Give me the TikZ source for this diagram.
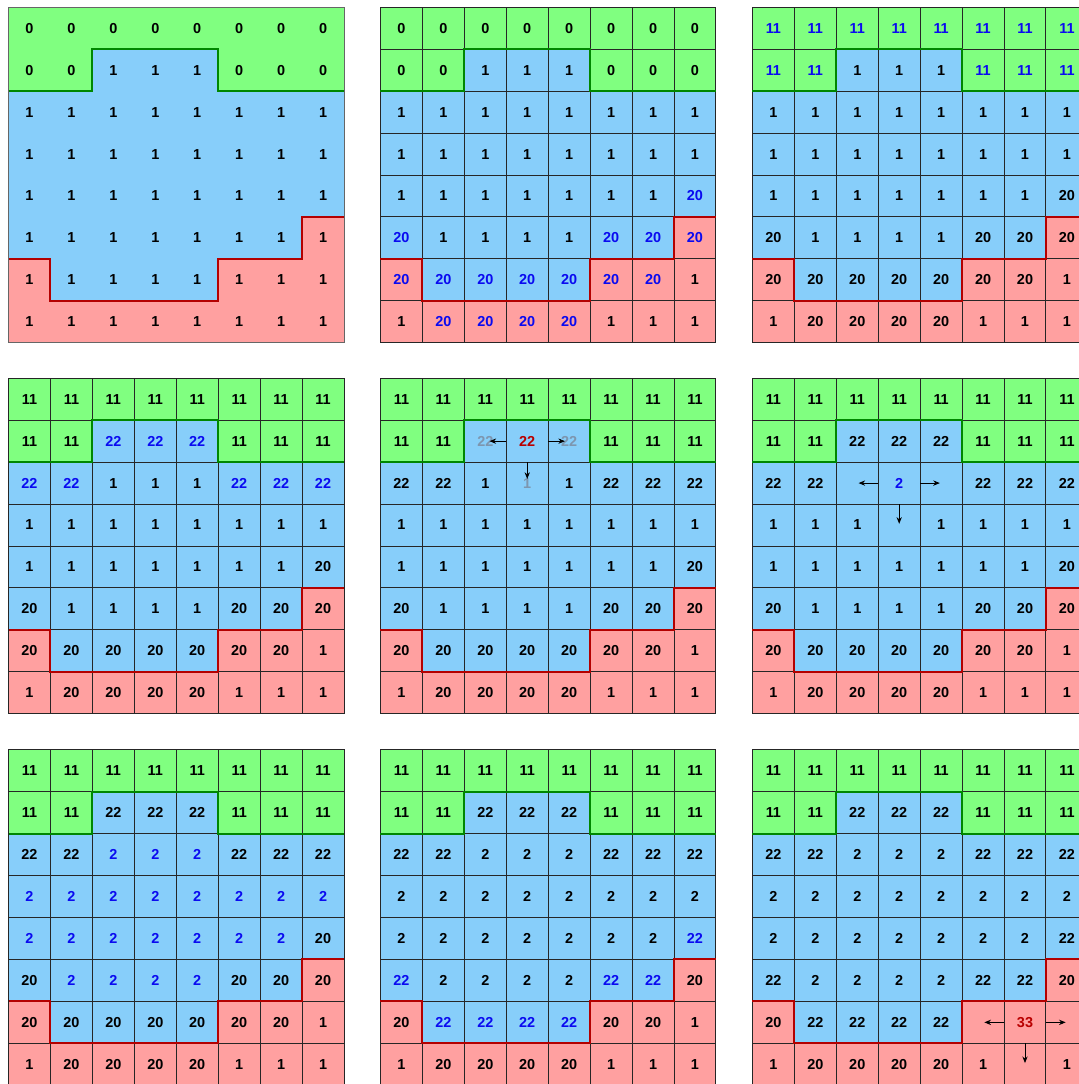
\documentclass[tikz,border=0pt]{standalone}
\usepackage{fontspec}
\setmainfont{Liberation Sans}
\usetikzlibrary{arrows.meta}

\definecolor{zgreen}{RGB}{128,255,128}
\definecolor{zblue}{RGB}{135,206,250}
\definecolor{zpink}{RGB}{255,160,160}
\definecolor{edgegreen}{RGB}{0,135,0}
\definecolor{edgered}{RGB}{180,0,0}
\definecolor{numblue}{RGB}{10,10,240}
\definecolor{numred}{RGB}{185,0,0}
\definecolor{ghost}{RGB}{125,150,175}

\newcommand\B[1]{\textcolor{numblue}{#1}}
\newcommand\R[1]{\textcolor{numred}{#1}}
\newcommand\G[1]{\textcolor{ghost}{#1}}

% #1 name, #2 cell style, #3 x, #4 y, #5 rows of values
\newcommand\labelpanel[5]{%
  \begin{scope}[shift={(#3,#4)}]
    \fill[zblue] (0,0) rectangle (8,-8);
    \fill[zgreen] (0,0) -- (8,0) -- (8,-2) -- (5,-2) -- (5,-1) -- (2,-1)
      -- (2,-2) -- (0,-2) -- cycle;
    \fill[zpink] (0,-8) -- (0,-6) -- (1,-6) -- (1,-7) -- (5,-7) -- (5,-6)
      -- (7,-6) -- (7,-5) -- (8,-5) -- (8,-8) -- cycle;
    \foreach \rowvals [count=\r] in {#5} {
      \foreach \v [count=\c] in \rowvals
        \node[#2] (#1-\r-\c) at (\c-0.5,0.5-\r) {\v};
    }
    \draw[seamgreen] (0,-2) -- (2,-2) -- (2,-1) -- (5,-1) -- (5,-2) -- (8,-2);
    \draw[seamred] (0,-6) -- (1,-6) -- (1,-7) -- (5,-7) -- (5,-6) -- (7,-6)
      -- (7,-5) -- (8,-5);
  \end{scope}}

\begin{document}
\begin{tikzpicture}[
  font=\fontsize{9.8}{11}\selectfont\bfseries,
  cell/.style={draw=black!85, line width=0.65pt, minimum size=1cm,
               inner sep=0pt},
  bare/.style={minimum size=1cm, inner sep=0pt},
  seamgreen/.style={draw=edgegreen, line width=1.4pt, line join=miter},
  seamred/.style={draw=edgered, line width=1.4pt, line join=miter},
  frame/.style={draw=black!60, line width=0.6pt},
  ar/.style={-{Stealth[length=4.5pt, width=3.6pt]}, line width=0.6pt,
             shorten <=5mm},
]
\useasboundingbox (0,0) rectangle (25.73,-25.85);
\clip (0,0) rectangle (25.73,-25.85);

% step 1
\labelpanel{a}{bare}{0.203}{-0.174}{
  {0,0,0,0,0,0,0,0},
  {0,0,1,1,1,0,0,0},
  {1,1,1,1,1,1,1,1},
  {1,1,1,1,1,1,1,1},
  {1,1,1,1,1,1,1,1},
  {1,1,1,1,1,1,1,1},
  {1,1,1,1,1,1,1,1},
  {1,1,1,1,1,1,1,1}}
\draw[frame] (0.203,-0.174) rectangle (8.203,-8.174);

% step 2
\labelpanel{b}{cell}{9.073}{-0.174}{
  {0,0,0,0,0,0,0,0},
  {0,0,1,1,1,0,0,0},
  {1,1,1,1,1,1,1,1},
  {1,1,1,1,1,1,1,1},
  {1,1,1,1,1,1,1,\B{20}},
  {\B{20},1,1,1,1,\B{20},\B{20},\B{20}},
  {\B{20},\B{20},\B{20},\B{20},\B{20},\B{20},\B{20},1},
  {1,\B{20},\B{20},\B{20},\B{20},1,1,1}}

% step 3
\labelpanel{c}{cell}{17.943}{-0.174}{
  {\B{11},\B{11},\B{11},\B{11},\B{11},\B{11},\B{11},\B{11}},
  {\B{11},\B{11},1,1,1,\B{11},\B{11},\B{11}},
  {1,1,1,1,1,1,1,1},
  {1,1,1,1,1,1,1,1},
  {1,1,1,1,1,1,1,20},
  {20,1,1,1,1,20,20,20},
  {20,20,20,20,20,20,20,1},
  {1,20,20,20,20,1,1,1}}

% step 4
\labelpanel{d}{cell}{0.203}{-9.02}{
  {11,11,11,11,11,11,11,11},
  {11,11,\B{22},\B{22},\B{22},11,11,11},
  {\B{22},\B{22},1,1,1,\B{22},\B{22},\B{22}},
  {1,1,1,1,1,1,1,1},
  {1,1,1,1,1,1,1,20},
  {20,1,1,1,1,20,20,20},
  {20,20,20,20,20,20,20,1},
  {1,20,20,20,20,1,1,1}}

% step 5
\labelpanel{e}{cell}{9.073}{-9.02}{
  {11,11,11,11,11,11,11,11},
  {11,11,\G{22},\R{22},\G{22},11,11,11},
  {22,22,1,\G{1},1,22,22,22},
  {1,1,1,1,1,1,1,1},
  {1,1,1,1,1,1,1,20},
  {20,1,1,1,1,20,20,20},
  {20,20,20,20,20,20,20,1},
  {1,20,20,20,20,1,1,1}}
\draw[ar, shorten >=1mm] (e-2-4.center) -- (e-2-3.center);
\draw[ar, shorten >=1mm] (e-2-4.center) -- (e-2-5.center);
\draw[ar, shorten >=1mm] (e-2-4.center) -- (e-3-4.center);

% step 6
\labelpanel{f}{cell}{17.943}{-9.02}{
  {11,11,11,11,11,11,11,11},
  {11,11,22,22,22,11,11,11},
  {22,22,{},\B{2},{},22,22,22},
  {1,1,1,{},1,1,1,1},
  {1,1,1,1,1,1,1,20},
  {20,1,1,1,1,20,20,20},
  {20,20,20,20,20,20,20,1},
  {1,20,20,20,20,1,1,1}}
\draw[ar, shorten >=0.3mm] (f-3-4.center) -- (f-3-3.center);
\draw[ar, shorten >=0.3mm] (f-3-4.center) -- (f-3-5.center);
\draw[ar, shorten >=0.3mm] (f-3-4.center) -- (f-4-4.center);

% step 7
\labelpanel{g}{cell}{0.203}{-17.88}{
  {11,11,11,11,11,11,11,11},
  {11,11,22,22,22,11,11,11},
  {22,22,\B{2},\B{2},\B{2},22,22,22},
  {\B{2},\B{2},\B{2},\B{2},\B{2},\B{2},\B{2},\B{2}},
  {\B{2},\B{2},\B{2},\B{2},\B{2},\B{2},\B{2},20},
  {20,\B{2},\B{2},\B{2},\B{2},20,20,20},
  {20,20,20,20,20,20,20,1},
  {1,20,20,20,20,1,1,1}}

% step 8
\labelpanel{h}{cell}{9.073}{-17.88}{
  {11,11,11,11,11,11,11,11},
  {11,11,22,22,22,11,11,11},
  {22,22,2,2,2,22,22,22},
  {2,2,2,2,2,2,2,2},
  {2,2,2,2,2,2,2,\B{22}},
  {\B{22},2,2,2,2,\B{22},\B{22},20},
  {20,\B{22},\B{22},\B{22},\B{22},20,20,1},
  {1,20,20,20,20,1,1,1}}

% step 9
\labelpanel{i}{cell}{17.943}{-17.88}{
  {11,11,11,11,11,11,11,11},
  {11,11,22,22,22,11,11,11},
  {22,22,2,2,2,22,22,22},
  {2,2,2,2,2,2,2,2},
  {2,2,2,2,2,2,2,22},
  {22,2,2,2,2,22,22,20},
  {20,22,22,22,22,{},\R{33},{}},
  {1,20,20,20,20,1,{},1}}
\draw[ar, shorten >=0.3mm] (i-7-7.center) -- (i-7-6.center);
\draw[ar, shorten >=0.3mm] (i-7-7.center) -- (i-7-8.center);
\draw[ar, shorten >=0.3mm] (i-7-7.center) -- (i-8-7.center);
\end{tikzpicture}
\end{document}
